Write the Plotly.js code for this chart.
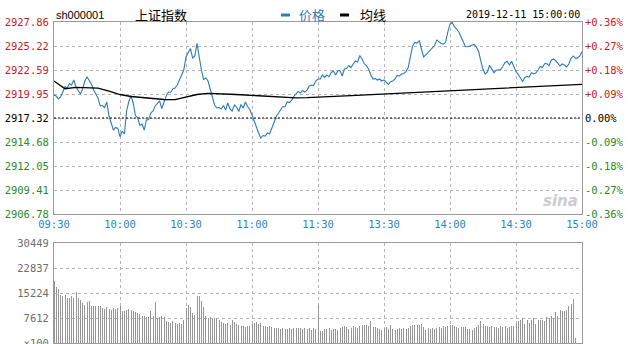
<!DOCTYPE html>
<html><head><meta charset="utf-8">
<script src="https://cdn.plot.ly/plotly-3.0.1.min.js"></script>
<style>html,body{margin:0;padding:0;background:#fff}#chart{width:632px;height:344px}</style>
</head><body><div id="chart"></div>
<script>
const prevClose = 2917.32;
const timeLabels = ['09:30','10:00','10:30','11:00','11:30','13:30','14:00','14:30','15:00'];
const timeTickMinutes = [0,30,60,90,120,150,180,210,240];
const priceTicks = [2906.78,2909.41,2912.05,2914.68,2917.32,2919.95,2922.59,2925.22,2927.86];
const pctLabels = ['-0.36%','-0.27%','-0.18%','-0.09%','0.00%','+0.09%','+0.18%','+0.27%','+0.36%'];
const volTicks = [0,7612,15224,22837,30449];
const volLabels = ['×100','7612','15224','22837','30449'];

const price = [
2919.84,2919.73,2919.41,2919.63,2920.17,2920.76,2920.61,2921.11,2920.94,2921.49,
2920.72,2920.39,2919.95,2920.50,2921.38,2921.82,2921.44,2921.05,2920.39,2919.90,
2919.52,2918.64,2918.69,2918.47,2919.08,2917.54,2916.66,2916.00,2916.28,2916.17,
2915.27,2915.89,2915.56,2918.09,2919.13,2919.79,2918.97,2917.59,2917.37,2916.50,
2916.66,2916.00,2917.10,2917.15,2917.87,2918.09,2918.64,2918.86,2919.19,2918.36,
2919.13,2919.73,2920.17,2920.12,2920.50,2920.61,2920.94,2921.49,2922.15,2922.59,
2924.02,2924.57,2924.95,2923.91,2924.13,2925.52,2923.91,2922.59,2921.55,2921.71,
2921.38,2920.45,2919.63,2918.75,2918.42,2918.47,2918.31,2918.69,2918.20,2918.97,
2918.31,2918.09,2918.75,2918.53,2918.03,2918.80,2918.42,2919.08,2918.58,2918.25,
2917.65,2916.93,2916.17,2915.67,2915.12,2915.40,2915.34,2915.67,2915.56,2916.11,
2916.82,2917.48,2917.81,2918.20,2918.58,2918.53,2919.08,2919.02,2919.24,2919.68,
2919.95,2920.23,2920.06,2920.34,2920.17,2920.39,2920.83,2920.94,2920.88,2921.38,
2921.60,2921.60,2922.04,2921.77,2922.04,2921.85,2922.32,2922.48,2922.04,2922.48,
2922.53,2921.93,2922.70,2922.75,2923.08,2922.86,2923.25,2923.58,2923.47,2924.18,
2923.80,2923.30,2923.06,2922.70,2922.04,2921.60,2921.66,2921.49,2921.60,2921.38,
2921.49,2921.27,2921.00,2921.31,2921.38,2921.60,2921.99,2921.93,2922.15,2922.21,
2922.42,2922.86,2924.02,2925.22,2925.61,2925.55,2925.83,2925.00,2924.02,2924.24,
2924.51,2924.73,2924.97,2925.28,2925.88,2925.70,2925.50,2925.44,2925.66,2926.76,
2927.64,2927.81,2927.34,2927.09,2926.76,2926.25,2925.77,2925.17,2925.15,2925.25,
2925.33,2925.39,2925.11,2924.62,2923.58,2922.64,2922.15,2922.37,2923.11,2922.75,
2922.29,2922.57,2922.59,2922.64,2922.97,2923.41,2923.52,2923.14,2923.56,2922.97,
2922.40,2922.12,2921.74,2921.33,2921.77,2921.88,2921.82,2922.28,2922.15,2922.26,
2922.59,2922.97,2922.86,2923.27,2923.30,2923.05,2923.67,2923.80,2923.63,2923.31,
2923.03,2923.25,2923.14,2922.92,2923.25,2923.87,2924.13,2923.87,2923.92,2924.13,2924.60
];

const avgMinutes = [0,5,10,15,20,25,30,35,40,45,50,55,60,65,70,75,80,85,90,95,100,105,110,115,120,
125,130,135,140,145,150,155,160,165,170,175,180,185,190,195,200,205,210,215,220,225,230,235,240];
const avgPrice = [2921.38,2920.53,2920.69,2920.67,2920.61,2920.28,2919.90,2919.68,2919.57,2919.43,
2919.35,2919.33,2919.63,2919.90,2920.03,2920.01,2919.93,2919.87,2919.79,2919.70,2919.63,2919.56,
2919.54,2919.55,2919.58,2919.67,2919.72,2919.78,2919.84,2919.89,2919.95,2920.01,2920.06,2920.15,
2920.22,2920.28,2920.36,2920.43,2920.49,2920.55,2920.60,2920.66,2920.71,2920.77,2920.82,2920.88,
2920.93,2920.98,2921.02];

const volume = [
18778,17052,16443,14718,14413,14718,13703,13703,14210,13703,
15530,13703,13195,12180,11673,12485,12688,11368,11165,11368,
11165,11368,10658,10353,10962,10353,10150,10556,10353,10658,
11368,9846,9643,10150,10455,10150,9846,9338,9135,8932,
8323,8323,7917,7917,9643,8323,12485,7613,7917,8120,
7917,6598,6293,6090,6598,6090,5786,6090,5786,6902,
10658,11673,10962,9135,8628,14413,14210,12688,10962,8323,
7613,7917,7308,7613,7613,7105,6293,6090,5887,6090,
5583,7105,6293,5786,5583,5075,5075,4872,5075,5075,
5887,6090,6293,5786,6090,5278,5075,4872,5075,4771,
4568,4466,4568,4365,4466,4263,4365,4466,4365,4568,
4669,4466,4568,4365,4466,4263,4466,4060,4466,4263,
11673,3553,3756,4263,4263,4466,4060,4365,4263,4060,
4466,4872,5075,4872,4365,4466,5075,4872,4466,5075,
5583,5380,5481,5278,6598,4872,4872,4466,4263,4060,
4568,4872,4263,5380,4263,4060,4365,4466,4263,4466,
4365,4669,5075,5583,5481,5380,5481,5786,4872,4060,
4466,4263,4466,4365,4466,4771,4568,5075,4872,5278,
5583,5380,5075,4872,4669,4771,4872,4771,4263,4263,
4060,4568,4872,5583,6598,5887,5278,5075,4872,5075,
4872,4771,4466,5075,4771,5075,4568,4872,5075,5075,
6090,6598,6902,7613,5887,7105,6090,6902,7511,5887,
7105,6902,6902,6598,7917,7613,8120,7613,9338,8323,
9947,9643,9643,10150,11165,11977,13500,1523,0,0,0
];

const minutes = price.map((_, i) => i);
const RED = '#cc1a22', GREEN = '#2a8a2a', BLACK = '#000';
function tone(v){ return v > prevClose + 1e-6 ? RED : (v < prevClose - 1e-6 ? GREEN : BLACK); }
const leftText = priceTicks.map(v => '<span style="color:' + tone(v) + '">' + v.toFixed(2) + '</span>');
const rightText = priceTicks.map((v, i) => '<span style="color:' + tone(v) + '">' + pctLabels[i] + '</span>');

const W = 632, H = 344;
const px = x => x / W, py = y => 1 - y / H;
const X0 = 54, X1 = 582;
const mono = 'DejaVu Sans Mono, monospace';
const gridCol = '#b4b4b4', boxCol = '#9a9a9a';

const traces = [
  {x: minutes, y: price, type: 'scatter', mode: 'lines', name: '价格',
   line: {color: '#2b7cb9', width: 1.1}, xaxis: 'x', yaxis: 'y', hoverinfo: 'skip'},
  {x: avgMinutes, y: avgPrice, type: 'scatter', mode: 'lines', name: '均线',
   line: {color: '#000', width: 1.3}, xaxis: 'x', yaxis: 'y', hoverinfo: 'skip'},
  {x: minutes, y: price, type: 'scatter', mode: 'lines', line: {width: 0},
   opacity: 0, xaxis: 'x', yaxis: 'y2', hoverinfo: 'skip', showlegend: false},
  {x: minutes, y: volume, type: 'bar', width: 0.45, name: '成交量',
   marker: {color: '#959595', line: {width: 0}}, xaxis: 'x2', yaxis: 'y3', hoverinfo: 'skip'}
];

const axBase = {showgrid: true, gridcolor: gridCol, griddash: 'dot', gridwidth: 1,
  showline: true, linecolor: boxCol, linewidth: 1, mirror: true, zeroline: false,
  ticks: '', fixedrange: true, ticklabeloverflow: 'allow'};

const layout = {
  width: W, height: H, margin: {l: 0, r: 0, t: 0, b: 0},
  paper_bgcolor: '#fff', plot_bgcolor: '#fff', showlegend: false, bargap: 0,
  font: {family: mono, size: 10.5, color: '#000'},
  xaxis: Object.assign({}, axBase, {domain: [px(X0), px(X1)], anchor: 'y', range: [0, 240],
    tickmode: 'array', tickvals: timeTickMinutes, ticktext: timeLabels,
    tickfont: {family: mono, size: 10.5, color: '#2a86c2'}}),
  yaxis: Object.assign({}, axBase, {domain: [py(214), py(22)], anchor: 'x', range: [priceTicks[0], priceTicks[8]],
    tickmode: 'array', tickvals: priceTicks, ticktext: leftText, ticklabelstandoff: 2,
    tickfont: {family: mono, size: 10.5}}),
  yaxis2: {overlaying: 'y', side: 'right', anchor: 'x', range: [priceTicks[0], priceTicks[8]],
    tickmode: 'array', tickvals: priceTicks, ticktext: rightText, showgrid: false, zeroline: false,
    showline: false, ticks: '', ticklabelstandoff: 2, fixedrange: true, ticklabeloverflow: 'allow',
    tickfont: {family: mono, size: 10.5}},
  xaxis2: Object.assign({}, axBase, {domain: [px(X0), px(X1)], anchor: 'y3', range: [0, 240],
    tickmode: 'array', tickvals: timeTickMinutes, showticklabels: false}),
  yaxis3: Object.assign({}, axBase, {domain: [py(343), py(243)], anchor: 'x2', range: [0, 30449],
    tickmode: 'array', tickvals: volTicks, ticktext: volLabels, ticklabelstandoff: 2,
    tickfont: {family: mono, size: 10.5, color: '#6e6e6e'}}),
  shapes: [
    {type: 'line', xref: 'x', yref: 'y', x0: 0, x1: 240, y0: prevClose, y1: prevClose,
     line: {color: '#000', width: 1, dash: '2px,2px'}},
    {type: 'rect', xref: 'paper', yref: 'paper', x0: px(281), x1: px(290), y0: py(16.5), y1: py(13.5),
     fillcolor: '#2b7cb9', line: {width: 0}},
    {type: 'rect', xref: 'paper', yref: 'paper', x0: px(340), x1: px(349), y0: py(16.5), y1: py(13.5),
     fillcolor: '#000', line: {width: 0}}
  ],
  annotations: [
    {text: 'sh000001', xref: 'paper', yref: 'paper', x: px(54), y: py(15), xanchor: 'left', yanchor: 'middle',
     showarrow: false, font: {family: 'Liberation Sans, Arial', size: 11, color: '#000'}},
    {text: '上证指数', xref: 'paper', yref: 'paper', x: px(161), y: py(15), xanchor: 'center', yanchor: 'middle',
     showarrow: false, font: {family: 'Noto Sans CJK SC', size: 13, color: '#000'}},
    {text: '价格', xref: 'paper', yref: 'paper', x: px(297), y: py(15), xanchor: 'left', yanchor: 'middle',
     showarrow: false, font: {family: 'Noto Sans CJK SC', size: 13, color: '#2b7cb9'}},
    {text: '均线', xref: 'paper', yref: 'paper', x: px(358), y: py(15), xanchor: 'left', yanchor: 'middle',
     showarrow: false, font: {family: 'Noto Sans CJK SC', size: 13, color: '#000'}},
    {text: '2019-12-11 15:00:00', xref: 'paper', yref: 'paper', x: px(582), y: py(15), xanchor: 'right', yanchor: 'middle',
     showarrow: false, font: {family: mono, size: 10, color: '#000'}},
    {text: '<i><b>sina</b></i>', xref: 'paper', yref: 'paper', x: px(580), y: py(201), xanchor: 'right', yanchor: 'middle',
     showarrow: false, font: {family: 'DejaVu Sans', size: 15, color: '#cccccc'}}
  ]
};

Plotly.newPlot('chart', traces, layout, {staticPlot: true, displayModeBar: false});
</script>
</body></html>
